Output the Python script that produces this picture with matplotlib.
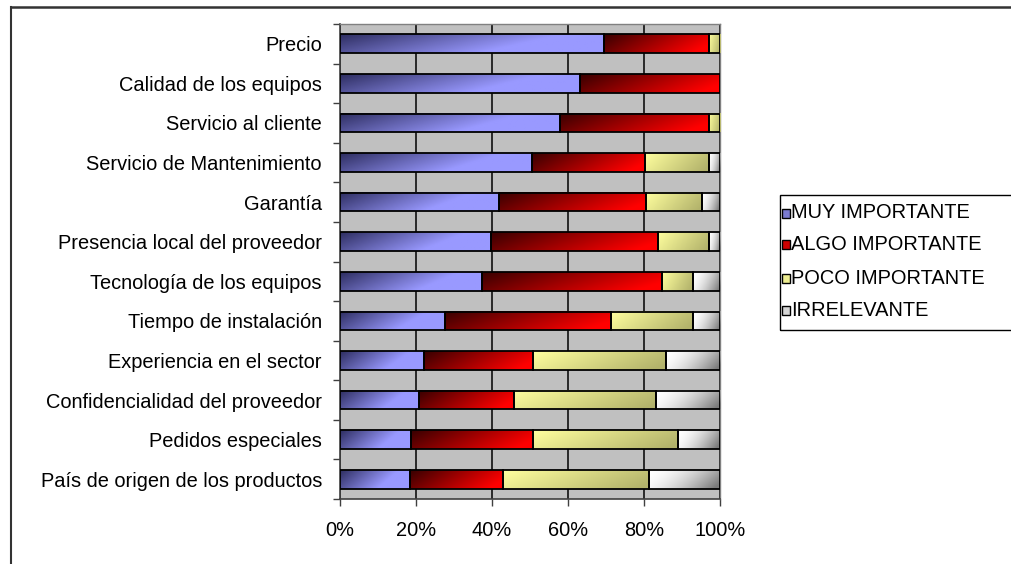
import numpy as np
import matplotlib
matplotlib.use("Agg")
import matplotlib.pyplot as plt
from matplotlib.patches import Rectangle
from matplotlib.lines import Line2D

plt.rcParams['font.family'] = ['Liberation Sans', 'DejaVu Sans']

categories = [
    "Precio", "Calidad de los equipos", "Servicio al cliente",
    "Servicio de Mantenimiento", "Garantía", "Presencia local del proveedor",
    "Tecnología de los equipos", "Tiempo de instalación",
    "Experiencia en el sector", "Confidencialidad del proveedor",
    "Pedidos especiales", "País de origen de los productos",
]
muy_importante = [69.6, 63.2, 57.8, 50.6, 41.8, 39.7, 37.3, 27.6, 22.1, 20.9, 18.7, 18.4]
algo_importante = [27.4, 36.8, 39.2, 29.6, 38.7, 43.9, 47.5, 43.7, 28.6, 24.8, 32.0, 24.4]
poco_importante = [3.0, 0.0, 3.0, 16.8, 14.8, 13.5, 8.0, 21.5, 35.0, 37.4, 38.3, 38.6]
irrelevante = [0.0, 0.0, 0.0, 3.0, 4.7, 2.9, 7.2, 7.2, 14.3, 16.9, 11.0, 18.6]
series_names = ["MUY IMPORTANTE", "ALGO IMPORTANTE", "POCO IMPORTANTE", "IRRELEVANTE"]
x_ticks = [0, 20, 40, 60, 80, 100]
x_tick_labels = ["0%", "20%", "40%", "60%", "80%", "100%"]

# gradient styles: (start colour, end colour, rate, gamma)
styles = [
    ((0.18, 0.18, 0.38), (0.60, 0.60, 1.00), 1.45, 1.0),
    ((0.22, 0.00, 0.00), (1.00, 0.00, 0.00), 1.05, 1.0),
    ((1.00, 1.00, 0.62), (0.70, 0.70, 0.42), 1.00, 1.0),
    ((1.00, 1.00, 1.00), (0.48, 0.48, 0.48), 1.00, 1.8),
]
legend_colors = ["#7a7ad0", "#cc0000", "#ecec90", "#d4d4d4"]


def gradient(style, nx=96, ny=24):
    c0, c1, rate, gamma = style
    u = np.linspace(0, 1, nx)[None, :]
    v = np.linspace(0, 1, ny)[:, None]
    t = np.clip((0.82 * u + 0.25 * v) * rate, 0, 1) ** gamma
    c0 = np.array(c0)[None, None, :]
    c1 = np.array(c1)[None, None, :]
    return c0 + (c1 - c0) * t[..., None]


W, H = 1011, 564
fig = plt.figure(figsize=(W / 100, H / 100), dpi=100)
ax = fig.add_axes([340 / W, 65 / H, 380 / W, 475 / H])
ax.set_facecolor("#c0c0c0")

y = np.arange(len(categories))
bar_h = 0.47
left = np.zeros(len(categories))
for vals, style in zip([muy_importante, algo_importante, poco_importante, irrelevante], styles):
    vals = np.array(vals)
    bars = ax.barh(y, vals, left=left, height=bar_h, facecolor="none",
                   edgecolor="black", linewidth=1.3, zorder=4)
    for patch, val in zip(bars.patches, vals):
        if val <= 0:
            patch.set_visible(False)
            continue
        x0, y0 = patch.get_x(), patch.get_y()
        w, h = patch.get_width(), patch.get_height()
        ax.imshow(gradient(style), extent=[x0, x0 + w, y0 + h, y0],
                  origin="upper", aspect="auto", interpolation="bilinear", zorder=3)
    left += vals

ax.set_xlim(0, 100)
ax.set_ylim(len(categories) - 0.5, -0.5)

ax.set_xticks(x_ticks)
ax.set_xticklabels(x_tick_labels, fontsize=14.4)
ax.set_yticks(y)
ax.set_yticklabels(categories, fontsize=14.4)
ax.set_yticks(np.arange(-0.5, len(categories), 1.0), minor=True)
ax.tick_params(axis="y", which="major", length=0, pad=13)
ax.tick_params(axis="y", which="minor", length=5, width=1, color="#404040")
ax.tick_params(axis="x", which="major", length=5, width=1, color="#404040", pad=11)

ax.xaxis.grid(True, color="black", linewidth=1.1, zorder=1)
ax.set_axisbelow(True)
for side in ["top", "right"]:
    ax.spines[side].set_color("#808080")
    ax.spines[side].set_linewidth(1.0)
for side in ["left", "bottom"]:
    ax.spines[side].set_color("#404040")
    ax.spines[side].set_linewidth(1.2)

# chart frame
fig.add_artist(Line2D([11 / W, 11 / W], [0, 1 - 7 / H], transform=fig.transFigure,
                      color="#333333", linewidth=1.5))
fig.add_artist(Line2D([11 / W, 1], [1 - 7 / H, 1 - 7 / H], transform=fig.transFigure,
                      color="#333333", linewidth=1.8))

# legend
fig.add_artist(Rectangle((780 / W, 1 - 330 / H), 250 / W, 135 / H, transform=fig.transFigure,
                         fill=False, edgecolor="black", linewidth=1.0))
row_y = [213, 245, 278, 310]
for name, col, ry in zip(series_names, legend_colors, row_y):
    fig.add_artist(Rectangle((782 / W, 1 - (ry + 4.5) / H), 8 / W, 9 / H,
                             transform=fig.transFigure, facecolor=col,
                             edgecolor="black", linewidth=1.0))
    fig.text(791 / W, 1 - ry / H, name, fontsize=14.4, va="center", ha="left")

fig.savefig("out.png", dpi=100)
